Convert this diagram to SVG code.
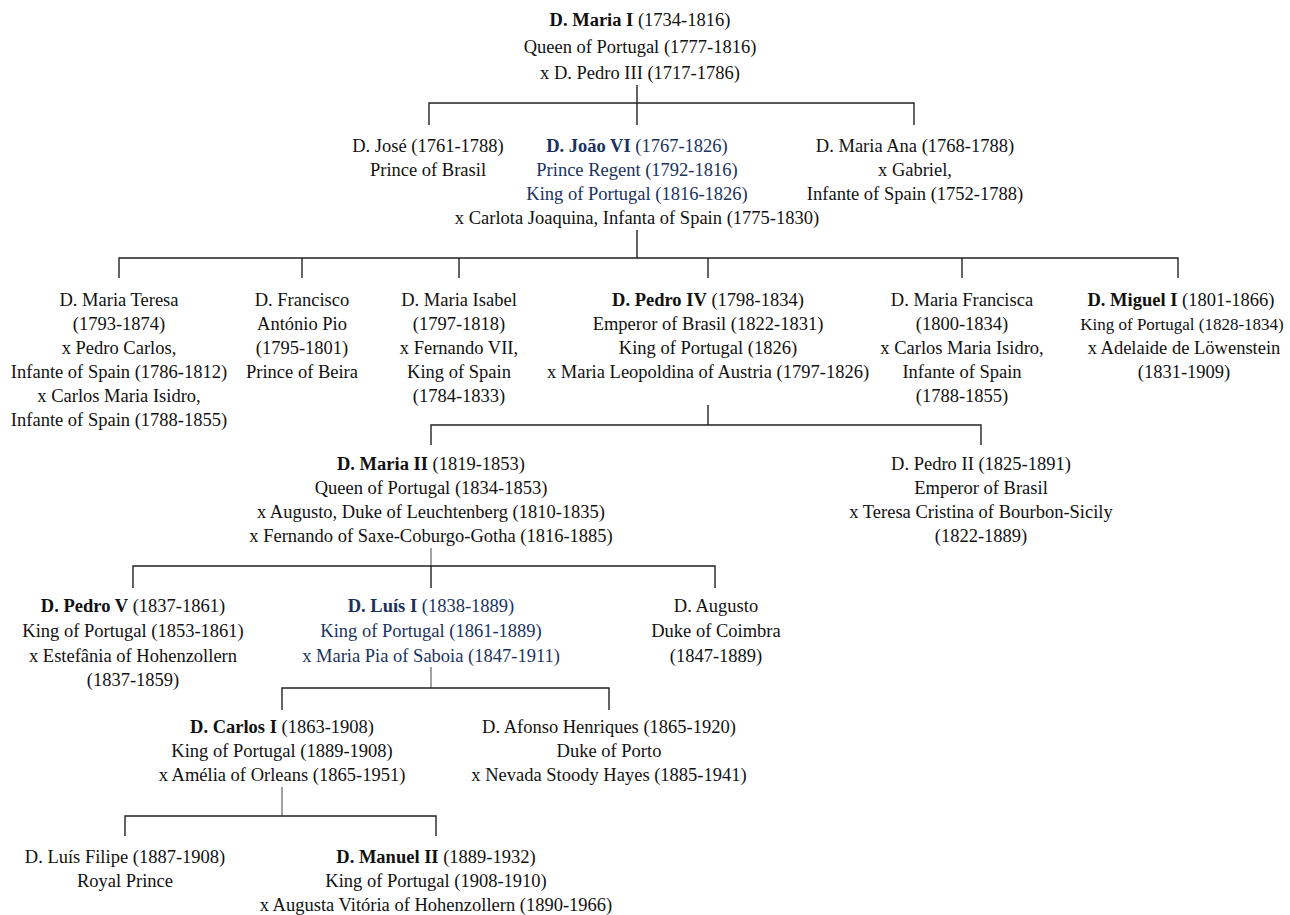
<svg xmlns="http://www.w3.org/2000/svg" width="1290" height="915" viewBox="0 0 1290 915">
<style>
text{font-family:"Liberation Serif","Times New Roman",serif;font-size:18.5px;fill:#111;text-anchor:middle}
.b{font-weight:bold}
.blue,.blue tspan{fill:#1a3260}
.c{stroke:#222;stroke-width:1.4;fill:none}
.t{stroke:#444;stroke-width:1;fill:none}
</style>
<rect width="1290" height="915" fill="#fff"/>
<g id="connectors">
<path class="c" d="M637 85V125M429 125V103H914V125"/>
<path class="c" d="M637 230V258M119 278V258H1178V278M302 258V278M459 258V278M708 258V278M962 258V278"/>
<path class="c" d="M708 405V425M431 445V425H981V445"/>
<path class="t" d="M431 548V566"/>
<path class="c" d="M133 588V566H715V588M431 566V588"/>
<path class="t" d="M431 667V688"/>
<path class="c" d="M282 710V688H609V710"/>
<path class="t" d="M282 787V816"/>
<path class="c" d="M125 836V816H436V836"/>
</g>
<g id="maria1">
<text x="640" y="26"><tspan class="b">D. Maria I</tspan> (1734-1816)</text>
<text x="640" y="53">Queen of Portugal (1777-1816)</text>
<text x="640" y="79">x D. Pedro III (1717-1786)</text>
</g>
<g id="jose">
<text x="428" y="152">D. José (1761-1788)</text>
<text x="428" y="176">Prince of Brasil</text>
</g>
<g id="joao6">
<text x="637" y="152" class="blue"><tspan class="b">D. João VI</tspan> (1767-1826)</text>
<text x="637" y="176" class="blue">Prince Regent (1792-1816)</text>
<text x="637" y="200" class="blue">King of Portugal (1816-1826)</text>
<text x="637" y="224">x Carlota Joaquina, Infanta of Spain (1775-1830)</text>
</g>
<g id="mariaana">
<text x="915" y="152">D. Maria Ana (1768-1788)</text>
<text x="915" y="176">x Gabriel,</text>
<text x="915" y="200">Infante of Spain (1752-1788)</text>
</g>
<g id="mariateresa">
<text x="119" y="306">D. Maria Teresa</text>
<text x="119" y="330">(1793-1874)</text>
<text x="119" y="354">x Pedro Carlos,</text>
<text x="119" y="378">Infante of Spain (1786-1812)</text>
<text x="119" y="402">x Carlos Maria Isidro,</text>
<text x="119" y="426">Infante of Spain (1788-1855)</text>
</g>
<g id="francisco">
<text x="302" y="306">D. Francisco</text>
<text x="302" y="330">António Pio</text>
<text x="302" y="354">(1795-1801)</text>
<text x="302" y="378">Prince of Beira</text>
</g>
<g id="mariaisabel">
<text x="459" y="306">D. Maria Isabel</text>
<text x="459" y="330">(1797-1818)</text>
<text x="459" y="354">x Fernando VII,</text>
<text x="459" y="378">King of Spain</text>
<text x="459" y="402">(1784-1833)</text>
</g>
<g id="pedro4">
<text x="708" y="306"><tspan class="b">D. Pedro IV</tspan> (1798-1834)</text>
<text x="708" y="330">Emperor of Brasil (1822-1831)</text>
<text x="708" y="354">King of Portugal (1826)</text>
<text x="708" y="378">x Maria Leopoldina of Austria (1797-1826)</text>
</g>
<g id="mariafrancisca">
<text x="962" y="306">D. Maria Francisca</text>
<text x="962" y="330">(1800-1834)</text>
<text x="962" y="354">x Carlos Maria Isidro,</text>
<text x="962" y="378">Infante of Spain</text>
<text x="962" y="402">(1788-1855)</text>
</g>
<g id="miguel1">
<text x="1181" y="306"><tspan class="b">D. Miguel I</tspan> (1801-1866)</text>
<text x="1182" y="330" style="font-size:17px">King of Portugal (1828-1834)</text>
<text x="1184" y="354">x Adelaide de Löwenstein</text>
<text x="1184" y="378">(1831-1909)</text>
</g>
<g id="maria2">
<text x="431" y="470"><tspan class="b">D. Maria II</tspan> (1819-1853)</text>
<text x="431" y="494">Queen of Portugal (1834-1853)</text>
<text x="431" y="518">x Augusto, Duke of Leuchtenberg (1810-1835)</text>
<text x="431" y="542">x Fernando of Saxe-Coburgo-Gotha (1816-1885)</text>
</g>
<g id="pedro2">
<text x="981" y="470">D. Pedro II (1825-1891)</text>
<text x="981" y="494">Emperor of Brasil</text>
<text x="981" y="518">x Teresa Cristina of Bourbon-Sicily</text>
<text x="981" y="542">(1822-1889)</text>
</g>
<g id="pedro5">
<text x="133" y="612"><tspan class="b">D. Pedro V</tspan> (1837-1861)</text>
<text x="133" y="637">King of Portugal (1853-1861)</text>
<text x="133" y="662">x Estefânia of Hohenzollern</text>
<text x="133" y="686">(1837-1859)</text>
</g>
<g id="luis1">
<text x="431" y="612" class="blue"><tspan class="b">D. Luís I</tspan> (1838-1889)</text>
<text x="431" y="637" class="blue">King of Portugal (1861-1889)</text>
<text x="431" y="662" class="blue">x Maria Pia of Saboia (1847-1911)</text>
</g>
<g id="augusto">
<text x="716" y="612">D. Augusto</text>
<text x="716" y="637">Duke of Coimbra</text>
<text x="716" y="662">(1847-1889)</text>
</g>
<g id="carlos1">
<text x="282" y="733"><tspan class="b">D. Carlos I</tspan> (1863-1908)</text>
<text x="282" y="757">King of Portugal (1889-1908)</text>
<text x="282" y="781">x Amélia of Orleans (1865-1951)</text>
</g>
<g id="afonso">
<text x="609" y="733">D. Afonso Henriques (1865-1920)</text>
<text x="609" y="757">Duke of Porto</text>
<text x="609" y="781">x Nevada Stoody Hayes (1885-1941)</text>
</g>
<g id="luisfilipe">
<text x="125" y="863">D. Luís Filipe (1887-1908)</text>
<text x="125" y="887">Royal Prince</text>
</g>
<g id="manuel2">
<text x="436" y="863"><tspan class="b">D. Manuel II</tspan> (1889-1932)</text>
<text x="436" y="887">King of Portugal (1908-1910)</text>
<text x="436" y="911">x Augusta Vitória of Hohenzollern (1890-1966)</text>
</g>
</svg>
